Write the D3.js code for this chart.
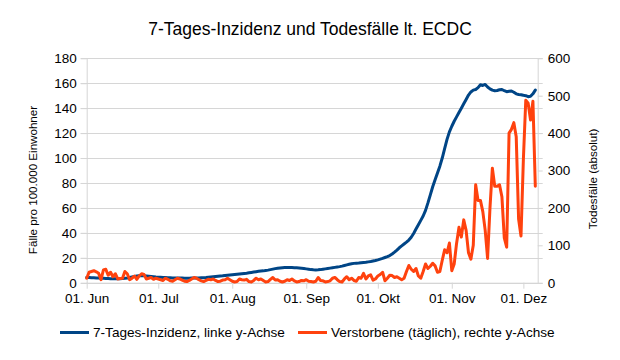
<!DOCTYPE html>
<html><head><meta charset="utf-8">
<script src="https://cdn.jsdelivr.net/npm/d3@7"></script>
<style>
html,body{margin:0;padding:0;background:#fff;}
svg{display:block;font-family:"Liberation Sans",Arial,sans-serif;}
</style></head>
<body><svg id="c" width="620" height="360"></svg>
<script>
const title = "7-Tages-Inzidenz und Todesfälle lt. ECDC";
const startDate = "2020-06-01";
const endDate = "2020-12-07";
const tickDates = ["2020-06-01","2020-07-01","2020-08-01","2020-09-01","2020-10-01","2020-11-01","2020-12-01"];
const tickLabels = ["01. Jun","01. Jul","01. Aug","01. Sep","01. Okt","01. Nov","01. Dez"];
const leftTicks = [0,20,40,60,80,100,120,140,160,180];
const rightTicks = [0,100,200,300,400,500,600];
const seriesNames = ["7-Tages-Inzidenz, linke y-Achse","Verstorbene (täglich), rechte y-Achse"];
const leftTitle = "Fälle pro 100.000 Einwohner";
const rightTitle = "Todesfälle (absolut)";

// daily values from 2020-06-01 to 2020-12-06
const incidence = [
 4.2,4.1,4.0,3.9,3.8,3.7,3.6,3.5,3.4,3.3,3.2,3.2,3.1,3.1,3.2,3.3,3.5,3.8,4.2,4.6,5.0,5.3,5.5,5.6,5.5,5.3,5.1,4.9,4.7,4.5,
 4.4,4.3,4.2,4.1,4.0,3.9,3.8,3.8,3.7,3.7,3.7,3.6,3.6,3.6,3.7,3.7,3.8,3.8,3.9,4.0,4.1,4.3,4.5,4.7,4.9,5.1,5.3,5.5,5.8,6.0,6.2,
 6.4,6.6,6.8,7.0,7.2,7.4,7.6,7.9,8.2,8.5,8.8,9.1,9.3,9.5,9.8,10.1,10.5,10.9,11.3,11.6,11.8,12.0,12.1,12.2,12.2,12.1,12.0,11.9,11.8,11.6,11.4,
 11.1,10.8,10.5,10.3,10.2,10.3,10.5,10.8,11.1,11.4,11.7,12.0,12.3,12.6,12.9,13.3,13.8,14.3,14.8,15.2,15.5,15.7,15.8,16.0,16.2,16.4,16.7,17.0,17.4,17.8,
 18.3,18.9,19.5,20.2,20.9,21.8,23.0,24.5,26.2,28.0,29.5,31.0,32.5,34.2,36.5,39.5,43.0,46.5,50.0,53.5,58.0,64.0,70.5,77.0,82.5,88.0,93.5,100.0,107.5,115.0,121.0,
 125.5,129.5,133.0,136.5,140.0,143.5,147.0,150.5,153.0,154.5,155.0,156.5,158.8,158.2,159.0,157.0,155.5,154.5,154.0,154.2,154.8,155.0,154.0,153.2,153.5,153.8,152.8,151.5,151.0,150.8,
 150.3,150.0,149.2,149.5,151.5,154.5
];
const deaths = [
 12,28,30,32,29,25,8,34,36,20,28,16,24,10,11,12,30,24,8,12,18,9,18,24,22,10,12,14,9,12,
 10,8,6,12,9,5,4,8,12,10,7,4,3,6,10,14,12,8,5,3,6,9,8,10,6,3,4,7,8,12,8,
 4,2,3,10,8,7,9,3,2,6,12,8,10,6,2,3,9,14,7,8,4,2,4,8,6,10,5,2,3,6,5,
 8,4,3,2,4,14,6,5,2,3,5,12,14,8,3,2,10,16,8,12,6,4,14,12,25,10,18,21,7,10,
 18,22,28,5,12,20,19,14,16,12,8,12,30,46,36,30,38,18,12,30,50,38,44,52,45,28,30,60,88,80,106,
 32,50,105,148,122,168,140,80,63,100,262,220,220,190,140,65,200,306,258,258,262,230,120,95,400,410,428,390,170,125,
 330,488,480,435,485,258
];
const colors = ["#004586","#ff420e"];

const parse = d3.utcParse("%Y-%m-%d");
const start = parse(startDate);
const dates = incidence.map((_, i) => d3.utcDay.offset(start, i));

const svg = d3.select("#c");
const L = 86.7, R = 537.7, T = 58.3, B = 282.7;
const x = d3.scaleUtc().domain([start, parse(endDate)]).range([L, R]);
const yL = d3.scaleLinear().domain([0,180]).range([B, T]);
const yR = d3.scaleLinear().domain([0,600]).range([B, T]);
const grid = "#d6d6d6";

// gridlines
svg.append("g").selectAll("line").data(leftTicks).join("line")
  .attr("x1", L - 6).attr("x2", R + 5)
  .attr("y1", d => Math.round(yL(d)) + 0.5).attr("y2", d => Math.round(yL(d)) + 0.5)
  .attr("stroke", grid).attr("stroke-width", 1);

function styleAxis(g){
  g.select(".domain").attr("stroke", grid);
  g.selectAll(".tick line").attr("stroke", grid);
  g.selectAll(".tick text").attr("fill", "#000").style("font-size", "13.5px")
   .style("font-family", '"Liberation Sans",Arial,sans-serif');
}
const gl = svg.append("g").attr("transform", `translate(${L},0)`)
  .call(d3.axisLeft(yL).tickValues(leftTicks).tickSize(6).tickSizeOuter(0).tickPadding(4));
styleAxis(gl);
const gr = svg.append("g").attr("transform", `translate(${R},0)`)
  .call(d3.axisRight(yR).tickValues(rightTicks).tickSize(5).tickSizeOuter(0).tickPadding(5));
styleAxis(gr);
const gb = svg.append("g").attr("transform", `translate(0,${B})`)
  .call(d3.axisBottom(x).tickValues(tickDates.map(parse)).tickFormat((d,i)=>tickLabels[i]).tickSize(6).tickSizeOuter(0).tickPadding(5));
styleAxis(gb);
gb.select(".domain").attr("d", `M${L},0.5H${R}`);

// lines
const lineL = d3.line().x((d,i)=>x(dates[i])).y(d=>yL(d));
const lineR = d3.line().x((d,i)=>x(dates[i])).y(d=>yR(d));
svg.append("path").datum(incidence).attr("d", lineL).attr("fill","none")
  .attr("stroke", colors[0]).attr("stroke-width", 3).attr("stroke-linejoin","round").attr("stroke-linecap","round");
svg.append("path").datum(deaths).attr("d", lineR).attr("fill","none")
  .attr("stroke", colors[1]).attr("stroke-width", 3).attr("stroke-linejoin","round").attr("stroke-linecap","round");

// titles
svg.append("text").attr("x", 310).attr("y", 35).attr("text-anchor","middle")
  .style("font-size","17.5px").text(title);
svg.append("text").attr("transform","translate(37,180) rotate(-90)").attr("text-anchor","middle")
  .style("font-size","11.6px").text(leftTitle);
svg.append("text").attr("transform","translate(596.5,179) rotate(-90)").attr("text-anchor","middle")
  .style("font-size","11.6px").text(rightTitle);

// legend
const legX = [60, 298];
const lg = svg.append("g");
seriesNames.forEach((n,i)=>{
  lg.append("line").attr("x1", legX[i]).attr("x2", legX[i]+29).attr("y1", 332.5).attr("y2", 332.5)
    .attr("stroke", colors[i]).attr("stroke-width", 3);
  lg.append("text").attr("x", legX[i]+33).attr("y", 337.3).style("font-size","13.6px").text(n);
});
</script></body></html>
